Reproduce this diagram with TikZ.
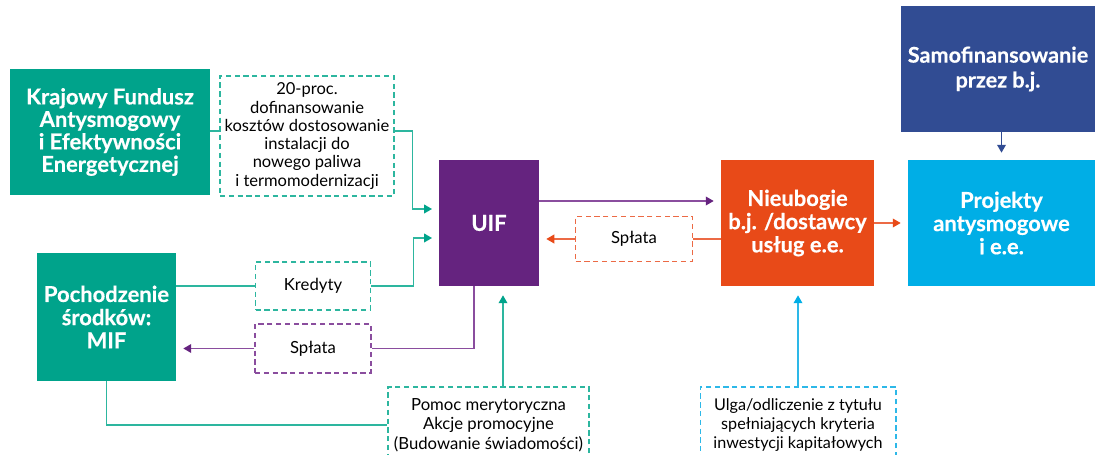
\documentclass[tikz,border=0pt]{standalone}
\usepackage{fontspec}
\setmainfont{Lato}[BoldFeatures={FakeBold=0.4}]
\usepackage{tikz}
\usetikzlibrary{arrows.meta}

\definecolor{kfgreen}{HTML}{00A38B}
\definecolor{tealline}{HTML}{2DB69F}
\definecolor{uifpurple}{HTML}{65237F}
\definecolor{purpline}{HTML}{8A4D9E}
\definecolor{nborange}{HTML}{E84A18}
\definecolor{oraline}{HTML}{EC6A45}
\definecolor{projblue}{HTML}{00AEE6}
\definecolor{bluline}{HTML}{2DB8E8}
\definecolor{samblue}{HTML}{314C93}

\begin{document}
\begin{tikzpicture}[x=0.02cm,y=-0.02cm,
  solidbox/.style={fill=#1,text=white,align=center,inner sep=0pt,
    font=\bfseries\fontsize{12.5}{13.2}\selectfont},
  dashbox/.style={draw=#1,dash pattern=on 3pt off 2pt,line width=0.6pt,fill=white,
    align=center,inner sep=0pt,font=\fontsize{9.5}{11}\selectfont},
  link/.style={draw=#1,line width=0.7pt},
  arr/.style={-{Triangle[length=4.5pt,width=5pt,color=#1]},shorten >=0.14cm}]

\useasboundingbox (0,0) rectangle (1095,455);

% boxes
\node[solidbox=kfgreen, minimum width=4cm, minimum height=2.52cm,
  font=\bfseries\fontsize{12.5}{12.8}\selectfont] (kfund) at (110,132)
  {Krajowy Fundusz\\Antysmogowy\\i Efektywności\\Energetycznej};
\node[dashbox=tealline, minimum width=3.48cm, minimum height=2.4cm,
  font=\fontsize{9.4}{10.4}\selectfont] (dofin) at (307,136)
  {20-proc.\\dofinansowanie\\kosztów dostosowanie\\instalacji do\\nowego paliwa\\i termomodernizacji};
\node[solidbox=uifpurple, minimum width=2cm, minimum height=2.52cm,
  font=\bfseries\fontsize{12.5}{14}\selectfont] (uif) at (489,223) {UIF};
\node[solidbox=nborange, minimum width=3.06cm, minimum height=2.52cm] (nieub) at (797.5,223)
  {Nieubogie\\b.j. /dostawcy\\usług e.e.};
\node[solidbox=projblue, minimum width=3.74cm, minimum height=2.52cm] (proj) at (1001.5,223)
  {Projekty\\antysmogowe\\i e.e.};
\node[solidbox=samblue, minimum width=3.88cm, minimum height=2.52cm,
  font=\bfseries\fontsize{12.3}{14.2}\selectfont] (samof) at (998,69)
  {Samofinansowanie\\przez b.j.};
\node[solidbox=kfgreen, minimum width=2.78cm, minimum height=2.56cm] (mif) at (106.5,317)
  {Pochodzenie\\środków:\\MIF};

\node[dashbox=tealline, minimum width=2.3cm, minimum height=0.96cm] (kred) at (313,286) {Kredyty};
\node[dashbox=purpline, minimum width=2.32cm, minimum height=0.98cm] (splmif) at (313,348.5) {Spłata};
\node[dashbox=oraline, minimum width=2.34cm, minimum height=0.9cm] (splnb) at (634,239) {Spłata};
\node[dashbox=tealline, minimum width=4.02cm, minimum height=1.52cm] (pomoc) at (488.5,425)
  {Pomoc merytoryczna\\Akcje promocyjne\\(Budowanie świadomości)};
\node[dashbox=bluline, minimum width=3.92cm, minimum height=1.52cm,
  font=\fontsize{9.2}{11}\selectfont] (ulga) at (798,425)
  {Ulga/odliczenie z tytułu\\spełniających kryteria\\inwestycji kapitałowych};

\coordinate (in1) at (439,209);
\coordinate (in2) at (439,238);

% connectors
\draw[link=tealline] (kfund.east |- 0,131) -- (dofin.west |- 0,131);
\draw[link=tealline, arr=kfgreen] (dofin.east |- 0,131) -- ++(18,0) |- (in1);
\draw[link=tealline] (kred.west -| mif.east) -- (kred.west);
\draw[link=tealline, arr=kfgreen] (kred.east) -- ++(42.5,0) |- (in2);
\draw[link=purpline] ([xshift=-0.3cm]uif.south) |- (splmif.east);
\draw[link=purpline, arr=uifpurple] (splmif.west) -- (splmif.west -| mif.east);
\draw[link=purpline, arr=uifpurple] ([yshift=0.44cm]uif.east) -- ([yshift=0.44cm]uif.east -| nieub.west);
\draw[link=oraline] (splnb.east -| nieub.west) -- (splnb.east);
\draw[link=oraline, arr=nborange] (splnb.west) -- (splnb.west -| uif.east);
\draw[link=oraline, arr=nborange] (nieub.east) -- (proj.west);
\draw[link=samblue, arr=samblue] (samof.south -| proj.north) -- (proj.north);
\draw[link=tealline] (mif.south) |- (pomoc.west);
\draw[link=tealline, arr=kfgreen, shorten >=0.18cm] ([xshift=0.29cm]pomoc.north) -- ([xshift=0.29cm]pomoc.north |- uif.south);
\draw[link=bluline, arr=projblue, shorten >=0.18cm] (ulga.north) -- (ulga.north |- nieub.south);

\end{tikzpicture}
\end{document}
